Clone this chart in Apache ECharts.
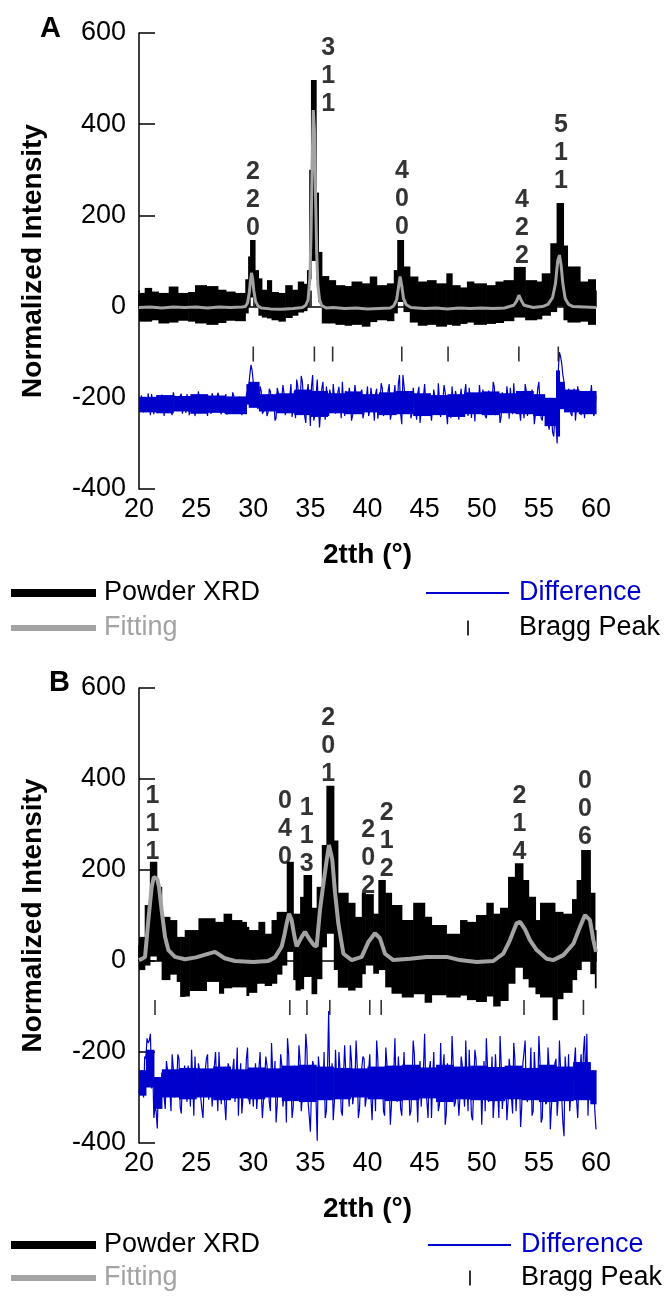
<!DOCTYPE html>
<html><head><meta charset="utf-8">
<script src="https://cdn.jsdelivr.net/npm/echarts@6/dist/echarts.min.js"></script>
<style>html,body{margin:0;padding:0;background:#fff}#c{width:672px;height:1296px}</style>
</head><body><div id="c"></div>
<script>
// ---------- Panel A data ----------
const aEdges = [20.0,20.5,21.1,21.7,22.6,23.4,24.3,24.9,25.9,26.9,27.6,28.4,29.3,29.55,29.72,30.15,30.45,30.75,31.2,31.6,32.2,32.8,33.4,33.9,34.4,34.7,34.9,35.05,35.5,35.7,36.0,36.6,37.2,38.0,38.6,39.5,40.2,40.8,41.7,42.3,42.6,43.15,43.7,44.4,45.2,46.0,46.9,47.4,48.1,48.7,49.3,50.4,51.2,51.9,52.8,53.8,54.8,55.25,56.0,56.55,57.15,57.5,58.6,59.3,59.95];
const aHigh = [30,41,33,30,44,30,32,47,45,37,33,30,60,110,146,80,62,37,58,32,30,47,37,55,50,80,300,497,250,120,67,58,47,45,55,51,66,47,51,80,146,88,66,55,58,51,73,47,42,55,51,47,55,58,87,58,55,73,139,227,134,88,55,60];
const aLow = [-33,-33,-30,-37,-35,-31,-33,-37,-40,-36,-31,-32,-15,0,20,0,-20,-24,-26,-30,-33,-25,-20,-13,-10,0,60,100,60,10,-37,-37,-40,-42,-40,-44,-34,-30,-32,-15,10,-12,-35,-42,-40,-44,-40,-42,-38,-35,-40,-38,-36,-32,-24,-30,-28,-20,-12,0,-30,-35,-33,-40];
const aFitX = [20,21,22,23,24,25,26,27,28,29,29.3,29.5,29.65,29.75,29.85,29.95,30.05,30.2,30.4,30.7,31.5,32.5,33.5,34.3,34.6,34.8,34.95,35.05,35.15,35.25,35.35,35.45,35.55,35.65,35.8,36.0,36.4,37,38,39,40,41,42,42.3,42.55,42.7,42.85,43.0,43.15,43.4,43.8,45,46,47,48,49,50,51,52,52.8,53.05,53.25,53.45,53.7,54.5,55.3,55.8,56.2,56.45,56.65,56.8,56.95,57.1,57.3,57.6,58.0,59,60];
const aFitY = [-2,-1,-3,-1,-2,-1,-3,-1,-2,-1,0,8,30,55,74,60,35,12,2,-3,-5,-6,-4,-2,3,15,60,150,300,431,390,250,120,50,15,2,-3,-2,-4,-3,-5,-4,-3,2,15,40,66,45,18,4,-2,-4,-3,-5,-3,-4,-3,-4,-3,3,12,25,14,3,-2,0,5,20,50,100,113,90,50,18,5,0,-1,-2];
// solid core of the difference trace (step bins)
const aCoreEdges = [20,21.5,23,24.5,26,27.5,29.4,29.6,30.5,32,33.6,35,36.5,38,39.5,41,42.5,44,45.5,47,48.5,50,51.5,53,54.5,55.5,56.5,56.8,57.2,58.5,60];
const aCoreHigh = [-198,-194,-196,-192,-195,-197,-170,-165,-192,-190,-182,-185,-190,-186,-192,-188,-185,-190,-194,-192,-188,-186,-190,-185,-192,-200,-140,-165,-182,-185];
const aCoreLow = [-232,-234,-230,-235,-233,-236,-215,-222,-230,-234,-238,-242,-234,-236,-232,-238,-236,-240,-238,-242,-236,-238,-234,-236,-240,-262,-285,-225,-232,-236];
// difference curve, read at 20.0, 20.2, ... 60.0
const aDiff = [-210,-195,-232,-205,-190,-238,-212,-198,-228,-207,
-193,-240,-215,-200,-230,-188,-225,-210,-196,-235,
-205,-192,-238,-214,-199,-226,-186,-232,-209,-195,
-240,-212,-190,-228,-204,-197,-236,-210,-192,-230,
-215,-188,-234,-206,-198,-238,-211,-193,
-175,-128,-165,-185,-225,-175,-235,-195,
-240,-180,-222,-198,-245,-190,-215,-172,-238,-205,-196,-242,-185,
-160,-230,-152,-205,-255,-170,-262,-150,-238,-160,-265,-180,-225,-175,-240,-195,-170,
-235,-188,-212,-165,-240,-200,-178,-250,-205,-168,-232,-190,-245,-210,-175,-228,-198,-250,-180,-222,-168,-240,-205,-185,-248,-215,-172,-230,
-150,-258,-175,-230,
-200,-245,-178,-222,-190,-255,-208,-170,-238,-195,
-250,-182,-215,-168,-242,-205,-188,-258,-210,-175,
-235,-198,-248,-180,-225,-170,-240,-206,-190,-252,
-215,-172,-232,-196,-245,-184,-220,-165,-238,-200,
-255,-188,-212,-175,-246,-205,-168,-235,-192,-250,
-218,-170,-240,-200,-182,-258,-210,-165,-245,-215,
-228,
-255,-200,-275,-240,-300,-100,-125,-165,-205,-180,
-235,-190,-250,-175,-225,-205,-245,-185,-230,-172,-240,-195];
// difference curve, read at 20.1, 20.3, ... 59.9
const aDiffMid = [-220,-204,-198,-226,-214,-192,-236,-208,-201,-231,
-217,-195,-224,-209,-238,-199,-213,-229,-191,-218,
-233,-203,-221,-196,-240,-207,-216,-230,-193,-222,
-210,-235,-200,-219,-189,-227,-213,-202,-237,-206,
-224,-196,-214,-232,-203,-220,-228,
-190,-150,-140,-200,-170,-215,-185,-230,
-205,-232,-186,-215,-250,-178,-226,-200,-192,-236,-210,-170,-222,
-245,-175,-215,-165,-240,-190,-210,-175,-250,-195,-215,-230,-165,-248,-200,-182,-228,
-198,-220,-176,-245,-210,-185,-228,-195,-238,-172,-215,-205,-182,-232,-200,-240,-178,-215,-192,-246,-205,-180,-225,-210,-170,-235,-195,-218,
-170,-235,-150,-205,
-215,-190,-232,-205,-248,-176,-226,-198,-210,-240,
-192,-222,-180,-236,-204,-215,-172,-230,-196,-245,
-208,-185,-228,-200,-238,-190,-215,-178,-244,-210,
-192,-226,-205,-182,-240,-212,-196,-230,-176,-220,
-206,-242,-188,-225,-200,-178,-236,-212,-194,-228,
-205,-245,-185,-222,-210,-198,-236,-180,-215,-250,
-200,
-230,-270,-235,-285,-260,-140,-110,-150,-190,-225,
-205,-240,-180,-220,-196,-238,-212,-186,-228,-200,-218,-230];
const aBragg = [30.0,35.35,36.95,43.0,47.05,53.25,56.7];
const aHkl = [[29.98,234,'2\n2\n0'],[36.55,506,'3\n1\n1'],[43.02,236,'4\n0\n0'],[53.52,173,'4\n2\n2'],[56.94,336,'5\n1\n1']];

// ---------- Panel B data ----------
const bEdges = [20.0,20.5,20.95,21.55,21.98,22.7,23.3,23.6,24.0,24.4,25.2,25.9,26.65,27.0,27.4,28.1,29.0,29.4,29.6,30.3,30.45,31.0,31.6,32.05,32.5,32.93,33.5,33.7,34.1,34.4,35.1,35.55,36.0,36.4,37.05,37.4,38.3,38.9,39.5,39.8,40.5,40.95,41.55,42.1,43.0,44.0,45.0,45.6,46.9,48.1,48.7,49.5,50.4,51.0,51.6,52.3,52.9,53.6,54.1,54.7,55.1,56.2,56.4,56.6,57.1,57.9,58.3,58.7,59.5,59.9,60.0];
const bHigh = [53,123,218,163,97,90,53,53,68,68,94,94,86,86,104,90,86,75,68,68,86,60,90,108,108,218,104,104,141,189,117,163,255,385,265,150,128,97,150,147,104,178,150,123,90,128,97,79,60,90,86,101,128,104,117,185,215,178,141,90,128,128,108,108,104,136,178,244,150,68];
const bLow = [-20,-10,10,0,-42,-30,-46,-79,-78,-66,-66,-46,-46,-72,-60,-58,-58,-77,-70,-50,-50,-55,-50,-30,-10,20,-42,-65,-62,-35,-73,-40,30,60,-20,-59,-65,-59,-29,-10,-28,-20,-58,-72,-80,-73,-92,-75,-80,-76,-86,-90,-78,-100,-88,-50,-15,-40,-58,-73,-80,-130,-130,-84,-70,-42,-20,0,-29,-60];
const bFitX = [20.0,20.3,20.53,20.82,21.11,21.3,21.46,21.6,21.75,21.98,22.28,22.57,23.15,24.03,25.0,25.8,26.65,27.5,28.4,30,31.3,31.9,32.49,32.75,32.93,33.13,33.36,33.6,33.8,34.24,34.53,34.97,35.3,35.55,35.84,36.14,36.43,36.63,36.92,37.16,37.45,37.89,38.62,39.49,40.08,40.65,41.09,41.53,42.26,43.72,45.18,46.93,48.09,49.55,51.01,51.89,52.47,53.05,53.35,53.78,54.22,54.81,55.68,56.26,57.14,58.02,58.6,59.04,59.47,59.77,60.0];
const bFitY = [2,5,9,90,163,185,189,180,163,112,53,24,9,4,8,14,20,6,0,-2,0,8,32,60,83,104,90,55,32,53,64,46,35,32,112,170,222,255,222,150,82,16,2,9,42,61,50,16,2,5,9,9,2,-2,0,16,46,83,86,70,46,24,5,2,13,38,75,101,90,46,20];
const bCoreEdges = [20,20.6,21.3,22,23.5,25,26.5,28,29.5,31,32.5,34,35.5,37,38.5,40,41.5,43,44.5,46,47.5,49,50.5,52,53.5,55,56.5,58,59.5,60];
const bCoreHigh = [-240,-195,-255,-238,-235,-236,-232,-238,-234,-236,-230,-228,-232,-235,-236,-232,-230,-228,-234,-228,-232,-230,-233,-230,-235,-228,-232,-222,-240];
const bCoreLow = [-296,-278,-325,-300,-304,-300,-306,-302,-304,-300,-308,-310,-306,-304,-300,-304,-308,-306,-302,-310,-304,-306,-308,-304,-306,-310,-308,-306,-315];
// difference curve, read at 20.0, 20.2, ... 60.0
const bDiff = [-290,-240,-300,-215,-180,-160,-230,-320,-368,-290,-245,
-300,-220,-275,-330,-235,-290,-205,-320,-260,-230,
-310,-250,-195,-340,-270,-225,-300,-345,-240,-205,
-285,-320,-230,-270,-200,-315,-255,-350,-225,-290,
-240,-310,-190,-270,-335,-250,-215,-300,-265,-320,
-225,-290,-200,-345,-260,-230,-310,-180,-275,-355,
-240,-205,-320,-265,-170,-300,-345,-230,-285,-185,
-330,-250,-160,-310,-375,-220,-280,-395,-240,-300,
-200,-330,-110,-260,-350,-195,-300,-240,-340,-185,
-270,-320,-220,-295,-175,-345,-260,-210,-320,-280,
-205,-350,-240,-175,-300,-265,-330,-190,-280,-360,
-230,-170,-310,-260,-340,-200,-285,-245,-330,-175,
-300,-355,-220,-265,-160,-310,-240,-345,-200,-290,
-330,-180,-270,-360,-225,-295,-165,-320,-250,-340,
-210,-285,-175,-330,-265,-350,-195,-300,-240,-360,
-220,-170,-310,-270,-345,-205,-290,-165,-325,-255,
-350,-215,-300,-180,-330,-260,-365,-225,-175,-310,
-270,-340,-200,-295,-165,-355,-240,-315,-190,-370,
-280,-225,-340,-175,-300,-385,-250,-205,-330,-265,
-190,-345,-240,-300,-165,-160,-230,-310,-260,-370];
// difference curve, read at 20.1, 20.3, ... 59.9
const bDiffMid = [-265,-275,-210,-170,-175,-280,-345,-330,-270,-300,
-255,-325,-240,-285,-205,-300,-270,-215,-335,-250,
-280,-230,-320,-265,-210,-295,-240,-325,-270,-215,
-305,-250,-285,-200,-330,-260,-245,-310,-275,-235,
-290,-215,-260,-340,-225,-300,-275,-190,-315,-250,
-270,-325,-235,-285,-305,-210,-260,-330,-245,-220,
-315,-275,-230,-290,-355,-205,-265,-320,-250,-280,
-220,-300,-260,-195,-340,-280,-230,-310,-210,-265,
-290,-345,-240,-280,-225,-310,-265,-200,-330,-255,
-245,-280,-185,-315,-270,-230,-325,-260,-215,-300,
-240,-300,-265,-330,-215,-290,-250,-340,-225,-270,
-315,-245,-280,-210,-325,-255,-295,-230,-340,-265,
-205,-290,-250,-320,-235,-275,-345,-220,-265,-300,
-240,-315,-270,-205,-335,-260,-290,-225,-310,-250,
-295,-230,-320,-260,-195,-340,-275,-215,-300,-245,
-270,-330,-230,-285,-210,-305,-260,-345,-225,-290,
-250,-310,-240,-335,-215,-280,-255,-320,-200,-300,
-265,-190,-330,-250,-290,-220,-345,-270,-310,-235,
-320,-255,-215,-300,-240,-355,-210,-285,-330,-250,
-225,-305,-270,-205,-200,-280,-340,-245,-300,-330];
const bBragg = [21.4,33.2,34.7,36.7,40.2,41.2,53.7,58.9];
const bHkl = [[21.17,301,'1\n1\n1'],[32.78,290,'0\n4\n0'],[34.68,274,'1\n1\n3'],[36.57,473,'2\n0\n1'],[40.07,227,'2\n0\n2'],[41.68,264,'2\n1\n2'],[53.29,301,'2\n1\n4'],[59.04,334,'0\n0\n6']];

const xTickStep = 5, yTickStep = 200;
const diffStart = 20, diffStep = 0.2;

// ---------- helpers ----------
const FONT = 'Liberation Sans';
const BLUE = '#0000cc', GREY = '#a3a3a3';
function band(edges, hi, lo){ const d=[]; for(let i=0;i<hi.length;i++) d.push([edges[i],edges[i+1],lo[i],hi[i]]); return d; }
function pairs(xs, ys){ return xs.map((x,i)=>[x, ys[i]]); }
function diffPairs(main, mid){
  const d=[];
  for(let i=0;i<main.length;i++){
    d.push([Math.round((diffStart+i*diffStep)*100)/100, main[i]]);
    if(i<mid.length) d.push([Math.round((diffStart+i*diffStep+diffStep/2)*100)/100, mid[i]]);
  }
  return d;
}
function bandRenderer(color){
  return function(params, api){
    const p0 = api.coord([api.value(0), api.value(3)]);
    const p1 = api.coord([api.value(1), api.value(2)]);
    return {type:'rect', shape:{x:p0[0], y:p0[1], width:p1[0]-p0[0]+0.6, height:p1[1]-p0[1]}, style:{fill:color}};
  };
}
function xAx(gi){ return {gridIndex:gi, type:'value', min:20, max:60, interval:xTickStep,
  axisLine:{lineStyle:{color:'#000', width:1.5}}, axisTick:{inside:true, length:16, lineStyle:{color:'#000', width:1.5}},
  splitLine:{show:false}, axisLabel:{color:'#000', fontSize:27, fontFamily:FONT, margin:7},
  name:'2tth (°)', nameLocation:'middle', nameGap:52, nameTextStyle:{color:'#000', fontSize:28, fontWeight:'bold', fontFamily:FONT}}; }
function yAx(gi){ return {gridIndex:gi, type:'value', min:-400, max:600, interval:yTickStep,
  axisLine:{show:true, lineStyle:{color:'#000', width:1.5}}, axisTick:{show:true, inside:true, length:16, lineStyle:{color:'#000', width:1.5}},
  splitLine:{show:false}, axisLabel:{color:'#000', fontSize:27, fontFamily:FONT, margin:13},
  name:'Normalized Intensity', nameLocation:'middle', nameGap:92, nameTextStyle:{color:'#000', fontSize:28, fontWeight:'bold', fontFamily:FONT}}; }
function panelSeries(gi, P){
  return [
    {name:'Powder XRD', type:'custom', xAxisIndex:gi, yAxisIndex:gi, renderItem:bandRenderer('#000'), encode:{x:[0,1], y:[2,3]}, data:band(P.edges,P.hi,P.lo), itemStyle:{color:'#000'}, z:2, silent:true},
    {name:'Fitting', type:'line', xAxisIndex:gi, yAxisIndex:gi, data:pairs(P.fx,P.fy), showSymbol:false, symbol:'none', lineStyle:{color:GREY, width:P.fitWidth}, itemStyle:{color:GREY}, z:3, silent:true},
    {name:'Difference', type:'custom', xAxisIndex:gi, yAxisIndex:gi, renderItem:bandRenderer(BLUE), encode:{x:[0,1], y:[2,3]}, data:band(P.cEdges,P.cHi,P.cLo), itemStyle:{color:BLUE}, z:3, silent:true},
    {name:'Difference', type:'line', xAxisIndex:gi, yAxisIndex:gi, data:diffPairs(P.diff, P.diffMid), showSymbol:false, symbol:'none', lineStyle:{color:BLUE, width:1.2}, itemStyle:{color:BLUE}, z:3, silent:true},
    {name:'Bragg Peak', type:'scatter', xAxisIndex:gi, yAxisIndex:gi, data:P.bragg.map(x=>[x, P.braggY]), symbol:'rect', symbolSize:[1.6,15], itemStyle:{color:'#000'}, z:4, silent:true},
    {name:'hkl', type:'scatter', xAxisIndex:gi, yAxisIndex:gi, data:P.hkl.map(h=>({value:[h[0],h[1]], name:h[2]})), symbolSize:0, itemStyle:{color:'#000'}, z:5, silent:true,
      label:{show:true, position:'inside', formatter:p=>p.name, color:'#000', textBorderWidth:0, textBorderColor:'transparent', fontSize:25, fontWeight:'bold', fontFamily:FONT, lineHeight:28}}
  ];
}
function leg(name, left, cy, icon, w, h, color, textColor, padLeft){
  return {show:true, selectedMode:false, left:left, top:cy-15, padding:0, icon:icon, itemWidth:w, itemHeight:h,
    data:[{name:name, icon:icon, itemStyle:{color:color}}],
    textStyle:{color:textColor, fontSize:27, fontFamily:FONT, lineHeight:30, padding:[0,0,0,padLeft]}};
}

const chart = echarts.init(document.getElementById('c'), null, {renderer:'canvas'});
chart.setOption({
  animation:false,
  backgroundColor:'#fff',
  title:[
    {text:'A', left:40, top:14, padding:0, textStyle:{fontSize:29, fontWeight:'bold', color:'#000', fontFamily:FONT}},
    {text:'B', left:49, top:668, padding:0, textStyle:{fontSize:29, fontWeight:'bold', color:'#000', fontFamily:FONT}}
  ],
  grid:[{left:139, top:33, width:457, height:456}, {left:139, top:688, width:457, height:455}],
  xAxis:[xAx(0), xAx(1)],
  yAxis:[yAx(0), yAx(1)],
  legend:[
    leg('Powder XRD', 11, 593, 'rect', 85, 8, '#000', '#000', 3),
    leg('Fitting', 11, 628, 'rect', 85, 6, GREY, GREY, 3),
    leg('Difference', 426, 593, 'rect', 83, 2, BLUE, BLUE, 5),
    leg('Bragg Peak', 467, 628, 'rect', 2, 15, '#000', '#000', 45),
    leg('Powder XRD', 11, 1245, 'rect', 85, 8, '#000', '#000', 3),
    leg('Fitting', 11, 1278, 'rect', 85, 6, GREY, GREY, 3),
    leg('Difference', 428, 1245, 'rect', 83, 2, BLUE, BLUE, 5),
    leg('Bragg Peak', 469, 1278, 'rect', 2, 15, '#000', '#000', 45)
  ],
  series:[].concat(
    panelSeries(0, {edges:aEdges, hi:aHigh, lo:aLow, fx:aFitX, fy:aFitY, cEdges:aCoreEdges, cHi:aCoreHigh, cLo:aCoreLow, diff:aDiff, diffMid:aDiffMid, bragg:aBragg, hkl:aHkl, braggY:-104, fitWidth:3}),
    panelSeries(1, {edges:bEdges, hi:bHigh, lo:bLow, fx:bFitX, fy:bFitY, cEdges:bCoreEdges, cHi:bCoreHigh, cLo:bCoreLow, diff:bDiff, diffMid:bDiffMid, bragg:bBragg, hkl:bHkl, braggY:-102, fitWidth:4})
  )
});
</script></body></html>
